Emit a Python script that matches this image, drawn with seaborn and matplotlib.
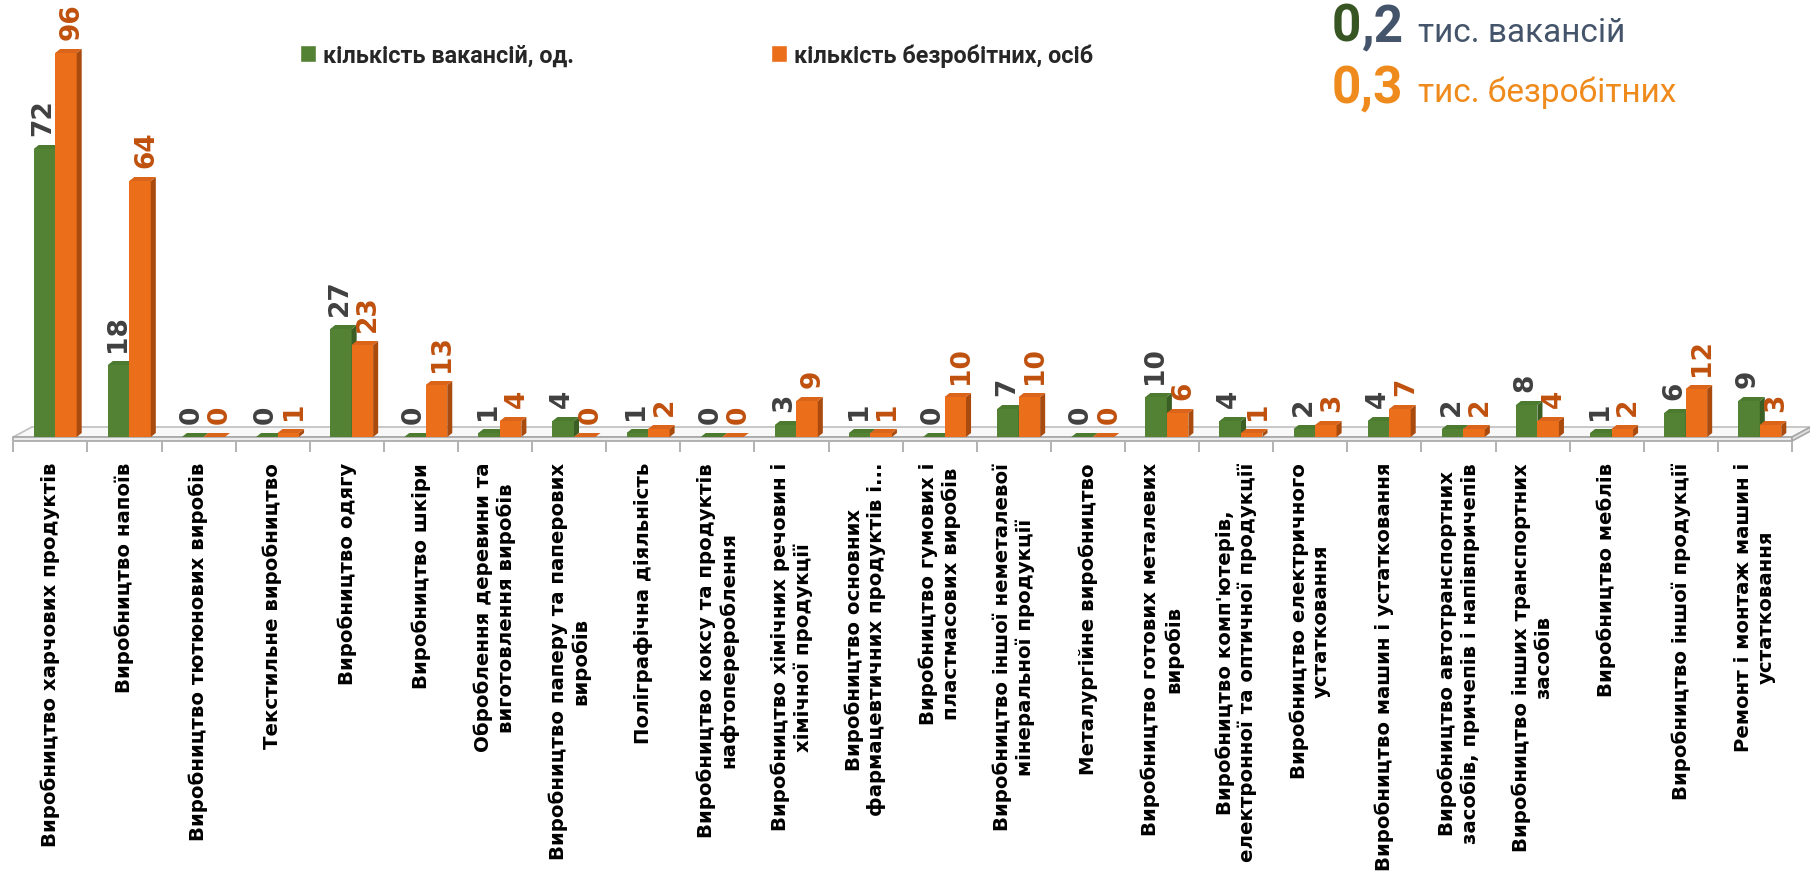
import pandas as pd
import seaborn as sns
import matplotlib.pyplot as plt
from matplotlib.patches import Polygon, Patch

# categories (line breaks as in the original chart)
categories = [
    'Виробництво харчових продуктів',
    'Виробництво напоїв',
    'Виробництво тютюнових виробів',
    'Текстильне виробництво',
    'Виробництво одягу',
    'Виробництво шкіри',
    'Оброблення деревини та\nвиготовлення виробів',
    'Виробництво паперу та паперових\nвиробів',
    'Поліграфічна діяльність',
    'Виробництво коксу та продуктів\nнафтоперероблення',
    'Виробництво хімічних речовин і\nхімічної продукції',
    'Виробництво основних\nфармацевтичних продуктів і...',
    'Виробництво гумових і\nпластмасових виробів',
    'Виробництво іншої неметалевої\nмінеральної продукції',
    'Металургійне виробництво',
    'Виробництво готових металевих\nвиробів',
    "Виробництво комп'ютерів,\nелектронної та оптичної продукції",
    'Виробництво електричного\nустатковання',
    'Виробництво машин і устатковання',
    'Виробництво автотранспортних\nзасобів, причепів і напівпричепів',
    'Виробництво інших транспортних\nзасобів',
    'Виробництво меблів',
    'Виробництво іншої продукції',
    'Ремонт і монтаж машин і\nустатковання',
]
vacancies = [72, 18, 0, 0, 27, 0, 1, 4, 1, 0, 3, 1, 0, 7, 0, 10, 4, 2, 4, 2, 8, 1, 6, 9]
unemployed = [96, 64, 0, 1, 23, 13, 4, 0, 2, 0, 9, 1, 10, 10, 0, 6, 1, 3, 7, 2, 4, 2, 12, 3]
series_names = ['кількість вакансій, од.', 'кількість безробітних, осіб']

GREEN, GREEN_SIDE, GREEN_TOP = '#548235', '#3B5E24', '#4C7A2F'
ORANGE, ORANGE_SIDE, ORANGE_TOP = '#EB6E1B', '#A94A0E', '#DA641A'
SLATE = '#44546A'
TOTAL_ORANGE = '#EF8A1C'

n = len(categories)
df = pd.DataFrame({
    'cat': categories * 2,
    'value': vacancies + unemployed,
    'series': [series_names[0]] * n + [series_names[1]] * n,
})

sns.set_style('white')
plt.rcParams['font.family'] = ['DejaVu Sans']

W, H = 1810, 878
fig = plt.figure(figsize=(W / 100, H / 100), dpi=100)
ax = fig.add_axes([13.3 / W, 440 / H, 1778.7 / W, 420 / H])

sns.barplot(data=df, x='cat', y='value', hue='series', palette=[GREEN, ORANGE],
            width=0.58, saturation=1, linewidth=0, errorbar=None, legend=False, ax=ax)

ax.set_xlim(-0.5, n - 0.5)
ax.set_ylim(0, 105)

# 3d look: depth of the bars and of the floor
DX, DY = 0.068, 1.0
FDX, FDY = 0.25, 2.5
shift = 0.065

# side colour, top colour, label colour, zorder, label x offset (points)
styles = [(GREEN_SIDE, GREEN_TOP, '#404040', 2, -2.5),
          (ORANGE_SIDE, ORANGE_TOP, '#C0500E', 3, 2.5)]
for cont, (side_c, top_c, lab_c, z, off) in zip(ax.containers, styles):
    for bar in cont:
        bar.set_x(bar.get_x() + shift)
        bar.set_zorder(z)
        x0, w, h = bar.get_x(), bar.get_width(), bar.get_height()
        ax.add_patch(Polygon([(x0 + w, 0), (x0 + w + DX, DY), (x0 + w + DX, h + DY), (x0 + w, h)],
                             fc=side_c, lw=0, zorder=z + 0.1, clip_on=False))
        ax.add_patch(Polygon([(x0, h), (x0 + DX, h + DY), (x0 + w + DX, h + DY), (x0 + w, h)],
                             fc=top_c, lw=0, zorder=z + 0.2, clip_on=False))
        ax.annotate(f'{h:.0f}', (x0 + w / 2 + DX / 2, h + DY), xytext=(off, 7),
                    textcoords='offset points', rotation=90, ha='center', va='bottom',
                    fontsize=19, fontweight='bold', color=lab_c, zorder=5)

# floor
xl, xr = -0.5, n - 0.5
ax.add_patch(Polygon([(xl, 0), (xr, 0), (xr + FDX, FDY), (xl + FDX, FDY)],
                     fc='#F8F8F8', ec='#BFBFBF', lw=1.2, zorder=1, clip_on=False))
ax.add_patch(Polygon([(xl, 0), (xr, 0), (xr, -1), (xl, -1)],
                     fc='#EDEDED', ec='#A6A6A6', lw=1.2, zorder=1, clip_on=False))
ax.add_patch(Polygon([(xr, 0), (xr + FDX, FDY), (xr + FDX, FDY - 1), (xr, -1)],
                     fc='#E0E0E0', ec='#A6A6A6', lw=1.2, zorder=1, clip_on=False))
ax.vlines([i - 0.5 for i in range(n + 1)], -1.2, -3.8, colors='#A6A6A6', lw=1.2, clip_on=False)

ax.set_xticks(range(n))
ax.set_xticklabels(categories, rotation=90, fontsize=14.2, fontweight='bold', color='black')
ax.tick_params(axis='x', length=0, pad=18)
ax.set_yticks([])
ax.set_xlabel('')
ax.set_ylabel('')
sns.despine(ax=ax, left=True, bottom=True)
ax.patch.set_alpha(0)

# legend, two separate entries
leg_font = {'family': ['Roboto', 'DejaVu Sans'], 'weight': 'bold', 'size': 16.8}
for color, label, x in [(GREEN, series_names[0], 300), (ORANGE, series_names[1], 771)]:
    fig.legend([Patch(facecolor=color)], [label], loc='center left',
               bbox_to_anchor=(x / W, 1 - 56 / H), frameon=False, borderpad=0,
               borderaxespad=0, handlelength=0.7, handleheight=0.7,
               handletextpad=0.3, prop=leg_font)

# totals in the top right corner
big = dict(fontsize=37, fontweight='bold', family=['Roboto', 'DejaVu Sans'])
small = dict(fontsize=24, family=['Roboto', 'DejaVu Sans'])
t0 = fig.text(1332 / W, 1 - 42 / H, '0', color='#375623', va='baseline', **big)
ax.annotate(',2', xy=(1, 0), xycoords=t0, ha='left', va='bottom', color=SLATE, **big)
fig.text(1418 / W, 1 - 42 / H, 'тис. вакансій', color=SLATE, va='baseline', **small)
fig.text(1332 / W, 1 - 103 / H, '0,3', color=TOTAL_ORANGE, va='baseline', **big)
fig.text(1418 / W, 1 - 102 / H, 'тис. безробітних', color=TOTAL_ORANGE, va='baseline', **small)

fig.savefig('out.png', dpi=100, facecolor='white')
